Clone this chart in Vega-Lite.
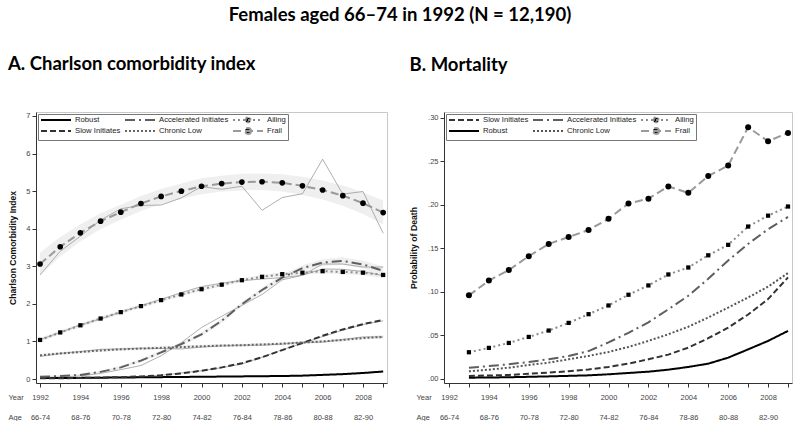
{
"$schema": "https://vega.github.io/schema/vega-lite/v6.json",
"padding": {"left": 7, "top": 6, "right": 4, "bottom": 0},
"background": "white",
"title": {"text": "Females aged 66–74 in 1992 (N = 12,190)", "font": "Lato", "fontSize": 18.5, "fontWeight": "bold", "color": "black", "anchor": "middle", "offset": 30},
"spacing": 21,
"config": {
  "view": {"stroke": "#c8c8c8"},
  "axis": {"labelFont": "Liberation Sans", "labelFontSize": 7.5, "labelColor": "#444", "titleFont": "Liberation Sans", "tickColor": "#333", "domainColor": "#333", "tickSize": 4, "grid": false, "labelPadding": 2},
  "legend": {"orient": "top-left", "direction": "horizontal", "offset": 2, "columns": 3, "strokeColor": "#777", "padding": 2, "labelFont": "Liberation Sans", "labelFontSize": 7.7, "labelColor": "#222", "labelBaseline": "middle", "symbolSize": 36, "symbolStrokeWidth": 2, "rowPadding": -3, "columnPadding": 0, "labelOffset": 27, "symbolType": "stroke"},
  "title": {"font": "Lato", "fontWeight": "bold", "color": "black"}
},
"datasets": {
  "A": [
    {"s":"Robust","year":1992,"fit":0.03,"obs":0.03},{"s":"Robust","year":1993,"fit":0.03,"obs":0.03},{"s":"Robust","year":1994,"fit":0.03,"obs":0.03},{"s":"Robust","year":1995,"fit":0.035,"obs":0.035},{"s":"Robust","year":1996,"fit":0.04,"obs":0.04},{"s":"Robust","year":1997,"fit":0.045,"obs":0.045},{"s":"Robust","year":1998,"fit":0.05,"obs":0.05},{"s":"Robust","year":1999,"fit":0.055,"obs":0.055},{"s":"Robust","year":2000,"fit":0.06,"obs":0.06},{"s":"Robust","year":2001,"fit":0.065,"obs":0.065},{"s":"Robust","year":2002,"fit":0.07,"obs":0.07},{"s":"Robust","year":2003,"fit":0.075,"obs":0.075},{"s":"Robust","year":2004,"fit":0.08,"obs":0.08},{"s":"Robust","year":2005,"fit":0.09,"obs":0.09},{"s":"Robust","year":2006,"fit":0.11,"obs":0.11},{"s":"Robust","year":2007,"fit":0.13,"obs":0.13},{"s":"Robust","year":2008,"fit":0.16,"obs":0.16},{"s":"Robust","year":2009,"fit":0.2,"obs":0.2},
    {"s":"Slow Initiates","year":1992,"fit":0.02,"obs":0.03},{"s":"Slow Initiates","year":1993,"fit":0.02,"obs":0.03},{"s":"Slow Initiates","year":1994,"fit":0.03,"obs":0.03},{"s":"Slow Initiates","year":1995,"fit":0.04,"obs":0.04},{"s":"Slow Initiates","year":1996,"fit":0.05,"obs":0.05},{"s":"Slow Initiates","year":1997,"fit":0.07,"obs":0.07},{"s":"Slow Initiates","year":1998,"fit":0.1,"obs":0.1},{"s":"Slow Initiates","year":1999,"fit":0.15,"obs":0.16},{"s":"Slow Initiates","year":2000,"fit":0.22,"obs":0.22},{"s":"Slow Initiates","year":2001,"fit":0.31,"obs":0.3},{"s":"Slow Initiates","year":2002,"fit":0.42,"obs":0.4},{"s":"Slow Initiates","year":2003,"fit":0.58,"obs":0.58},{"s":"Slow Initiates","year":2004,"fit":0.77,"obs":0.78},{"s":"Slow Initiates","year":2005,"fit":0.96,"obs":0.95},{"s":"Slow Initiates","year":2006,"fit":1.15,"obs":1.13},{"s":"Slow Initiates","year":2007,"fit":1.32,"obs":1.3},{"s":"Slow Initiates","year":2008,"fit":1.46,"obs":1.45},{"s":"Slow Initiates","year":2009,"fit":1.57,"obs":1.55},
    {"s":"Accelerated Initiates","year":1992,"fit":0.06,"obs":0.04,"lo":0.03,"hi":0.09},{"s":"Accelerated Initiates","year":1993,"fit":0.08,"obs":0.05,"lo":0.05,"hi":0.11},{"s":"Accelerated Initiates","year":1994,"fit":0.11,"obs":0.08,"lo":0.08,"hi":0.14},{"s":"Accelerated Initiates","year":1995,"fit":0.19,"obs":0.15,"lo":0.16,"hi":0.22},{"s":"Accelerated Initiates","year":1996,"fit":0.31,"obs":0.25,"lo":0.27,"hi":0.35},{"s":"Accelerated Initiates","year":1997,"fit":0.49,"obs":0.36,"lo":0.45,"hi":0.53},{"s":"Accelerated Initiates","year":1998,"fit":0.71,"obs":0.62,"lo":0.66,"hi":0.76},{"s":"Accelerated Initiates","year":1999,"fit":0.93,"obs":0.97,"lo":0.88,"hi":0.98},{"s":"Accelerated Initiates","year":2000,"fit":1.19,"obs":1.37,"lo":1.14,"hi":1.24},{"s":"Accelerated Initiates","year":2001,"fit":1.55,"obs":1.67,"lo":1.49,"hi":1.61},{"s":"Accelerated Initiates","year":2002,"fit":1.99,"obs":1.96,"lo":1.93,"hi":2.05},{"s":"Accelerated Initiates","year":2003,"fit":2.37,"obs":2.25,"lo":2.31,"hi":2.43},{"s":"Accelerated Initiates","year":2004,"fit":2.7,"obs":2.64,"lo":2.63,"hi":2.77},{"s":"Accelerated Initiates","year":2005,"fit":2.95,"obs":2.76,"lo":2.87,"hi":3.03},{"s":"Accelerated Initiates","year":2006,"fit":3.1,"obs":3.06,"lo":3.01,"hi":3.19},{"s":"Accelerated Initiates","year":2007,"fit":3.14,"obs":3.06,"lo":3.04,"hi":3.24},{"s":"Accelerated Initiates","year":2008,"fit":3.05,"obs":2.98,"lo":2.95,"hi":3.15},{"s":"Accelerated Initiates","year":2009,"fit":2.88,"obs":2.98,"lo":2.76,"hi":3.0},
    {"s":"Ailing","year":1992,"fit":1.04,"obs":1.05,"lo":0.99,"hi":1.09},{"s":"Ailing","year":1993,"fit":1.24,"obs":1.24,"lo":1.19,"hi":1.29},{"s":"Ailing","year":1994,"fit":1.43,"obs":1.44,"lo":1.38,"hi":1.48},{"s":"Ailing","year":1995,"fit":1.61,"obs":1.6,"lo":1.56,"hi":1.66},{"s":"Ailing","year":1996,"fit":1.78,"obs":1.78,"lo":1.73,"hi":1.83},{"s":"Ailing","year":1997,"fit":1.94,"obs":1.95,"lo":1.89,"hi":1.99},{"s":"Ailing","year":1998,"fit":2.1,"obs":2.12,"lo":2.05,"hi":2.15},{"s":"Ailing","year":1999,"fit":2.25,"obs":2.3,"lo":2.2,"hi":2.3},{"s":"Ailing","year":2000,"fit":2.39,"obs":2.46,"lo":2.34,"hi":2.44},{"s":"Ailing","year":2001,"fit":2.51,"obs":2.55,"lo":2.46,"hi":2.56},{"s":"Ailing","year":2002,"fit":2.63,"obs":2.62,"lo":2.58,"hi":2.68},{"s":"Ailing","year":2003,"fit":2.72,"obs":2.66,"lo":2.67,"hi":2.77},{"s":"Ailing","year":2004,"fit":2.79,"obs":2.7,"lo":2.74,"hi":2.84},{"s":"Ailing","year":2005,"fit":2.83,"obs":2.76,"lo":2.78,"hi":2.88},{"s":"Ailing","year":2006,"fit":2.87,"obs":2.93,"lo":2.81,"hi":2.93},{"s":"Ailing","year":2007,"fit":2.85,"obs":2.92,"lo":2.79,"hi":2.91},{"s":"Ailing","year":2008,"fit":2.83,"obs":2.86,"lo":2.76,"hi":2.9},{"s":"Ailing","year":2009,"fit":2.77,"obs":2.75,"lo":2.69,"hi":2.85},
    {"s":"Chronic Low","year":1992,"fit":0.63,"obs":0.6,"lo":0.59,"hi":0.67},{"s":"Chronic Low","year":1993,"fit":0.68,"obs":0.68,"lo":0.64,"hi":0.72},{"s":"Chronic Low","year":1994,"fit":0.72,"obs":0.73,"lo":0.68,"hi":0.76},{"s":"Chronic Low","year":1995,"fit":0.76,"obs":0.79,"lo":0.72,"hi":0.8},{"s":"Chronic Low","year":1996,"fit":0.79,"obs":0.8,"lo":0.75,"hi":0.83},{"s":"Chronic Low","year":1997,"fit":0.81,"obs":0.82,"lo":0.77,"hi":0.85},{"s":"Chronic Low","year":1998,"fit":0.83,"obs":0.81,"lo":0.79,"hi":0.87},{"s":"Chronic Low","year":1999,"fit":0.85,"obs":0.8,"lo":0.81,"hi":0.89},{"s":"Chronic Low","year":2000,"fit":0.87,"obs":0.85,"lo":0.83,"hi":0.91},{"s":"Chronic Low","year":2001,"fit":0.89,"obs":0.88,"lo":0.85,"hi":0.93},{"s":"Chronic Low","year":2002,"fit":0.9,"obs":0.9,"lo":0.86,"hi":0.94},{"s":"Chronic Low","year":2003,"fit":0.92,"obs":0.9,"lo":0.88,"hi":0.96},{"s":"Chronic Low","year":2004,"fit":0.94,"obs":0.93,"lo":0.9,"hi":0.98},{"s":"Chronic Low","year":2005,"fit":0.97,"obs":0.98,"lo":0.93,"hi":1.01},{"s":"Chronic Low","year":2006,"fit":1.0,"obs":0.98,"lo":0.96,"hi":1.04},{"s":"Chronic Low","year":2007,"fit":1.04,"obs":1.05,"lo":1.0,"hi":1.08},{"s":"Chronic Low","year":2008,"fit":1.09,"obs":1.12,"lo":1.05,"hi":1.13},{"s":"Chronic Low","year":2009,"fit":1.12,"obs":1.12,"lo":1.07,"hi":1.17},
    {"s":"Frail","year":1992,"fit":3.06,"obs":2.77,"lo":2.76,"hi":3.36},{"s":"Frail","year":1993,"fit":3.52,"obs":3.4,"lo":3.26,"hi":3.78},{"s":"Frail","year":1994,"fit":3.89,"obs":3.8,"lo":3.66,"hi":4.12},{"s":"Frail","year":1995,"fit":4.2,"obs":4.23,"lo":3.99,"hi":4.41},{"s":"Frail","year":1996,"fit":4.44,"obs":4.53,"lo":4.24,"hi":4.64},{"s":"Frail","year":1997,"fit":4.67,"obs":4.62,"lo":4.47,"hi":4.87},{"s":"Frail","year":1998,"fit":4.86,"obs":4.63,"lo":4.66,"hi":5.06},{"s":"Frail","year":1999,"fit":5.0,"obs":4.82,"lo":4.8,"hi":5.2},{"s":"Frail","year":2000,"fit":5.13,"obs":5.12,"lo":4.92,"hi":5.34},{"s":"Frail","year":2001,"fit":5.2,"obs":5.05,"lo":4.99,"hi":5.41},{"s":"Frail","year":2002,"fit":5.24,"obs":5.13,"lo":5.02,"hi":5.46},{"s":"Frail","year":2003,"fit":5.25,"obs":4.49,"lo":5.03,"hi":5.47},{"s":"Frail","year":2004,"fit":5.22,"obs":4.83,"lo":4.99,"hi":5.45},{"s":"Frail","year":2005,"fit":5.14,"obs":4.93,"lo":4.9,"hi":5.38},{"s":"Frail","year":2006,"fit":5.03,"obs":5.85,"lo":4.78,"hi":5.28},{"s":"Frail","year":2007,"fit":4.88,"obs":4.92,"lo":4.61,"hi":5.15},{"s":"Frail","year":2008,"fit":4.68,"obs":4.99,"lo":4.39,"hi":4.97},{"s":"Frail","year":2009,"fit":4.43,"obs":3.88,"lo":4.11,"hi":4.75}
  ],
  "B": [
    {"s":"Frail","year":1993,"p":0.096},{"s":"Frail","year":1994,"p":0.113},{"s":"Frail","year":1995,"p":0.125},{"s":"Frail","year":1996,"p":0.141},{"s":"Frail","year":1997,"p":0.155},{"s":"Frail","year":1998,"p":0.163},{"s":"Frail","year":1999,"p":0.171},{"s":"Frail","year":2000,"p":0.184},{"s":"Frail","year":2001,"p":0.2015},{"s":"Frail","year":2002,"p":0.207},{"s":"Frail","year":2003,"p":0.221},{"s":"Frail","year":2004,"p":0.2137},{"s":"Frail","year":2005,"p":0.233},{"s":"Frail","year":2006,"p":0.245},{"s":"Frail","year":2007,"p":0.289},{"s":"Frail","year":2008,"p":0.273},{"s":"Frail","year":2009,"p":0.2825},
    {"s":"Ailing","year":1993,"p":0.0307},{"s":"Ailing","year":1994,"p":0.0357},{"s":"Ailing","year":1995,"p":0.0414},{"s":"Ailing","year":1996,"p":0.0483},{"s":"Ailing","year":1997,"p":0.0556},{"s":"Ailing","year":1998,"p":0.0644},{"s":"Ailing","year":1999,"p":0.0744},{"s":"Ailing","year":2000,"p":0.0844},{"s":"Ailing","year":2001,"p":0.0967},{"s":"Ailing","year":2002,"p":0.1074},{"s":"Ailing","year":2003,"p":0.12},{"s":"Ailing","year":2004,"p":0.128},{"s":"Ailing","year":2005,"p":0.142},{"s":"Ailing","year":2006,"p":0.154},{"s":"Ailing","year":2007,"p":0.175},{"s":"Ailing","year":2008,"p":0.1875},{"s":"Ailing","year":2009,"p":0.198},
    {"s":"Accelerated Initiates","year":1993,"p":0.013},{"s":"Accelerated Initiates","year":1994,"p":0.0148},{"s":"Accelerated Initiates","year":1995,"p":0.0169},{"s":"Accelerated Initiates","year":1996,"p":0.0196},{"s":"Accelerated Initiates","year":1997,"p":0.0226},{"s":"Accelerated Initiates","year":1998,"p":0.0265},{"s":"Accelerated Initiates","year":1999,"p":0.032},{"s":"Accelerated Initiates","year":2000,"p":0.042},{"s":"Accelerated Initiates","year":2001,"p":0.053},{"s":"Accelerated Initiates","year":2002,"p":0.065},{"s":"Accelerated Initiates","year":2003,"p":0.08},{"s":"Accelerated Initiates","year":2004,"p":0.0955},{"s":"Accelerated Initiates","year":2005,"p":0.115},{"s":"Accelerated Initiates","year":2006,"p":0.136},{"s":"Accelerated Initiates","year":2007,"p":0.155},{"s":"Accelerated Initiates","year":2008,"p":0.172},{"s":"Accelerated Initiates","year":2009,"p":0.186},
    {"s":"Chronic Low","year":1993,"p":0.0088},{"s":"Chronic Low","year":1994,"p":0.0107},{"s":"Chronic Low","year":1995,"p":0.013},{"s":"Chronic Low","year":1996,"p":0.016},{"s":"Chronic Low","year":1997,"p":0.0188},{"s":"Chronic Low","year":1998,"p":0.0226},{"s":"Chronic Low","year":1999,"p":0.0265},{"s":"Chronic Low","year":2000,"p":0.031},{"s":"Chronic Low","year":2001,"p":0.0368},{"s":"Chronic Low","year":2002,"p":0.0437},{"s":"Chronic Low","year":2003,"p":0.0514},{"s":"Chronic Low","year":2004,"p":0.06},{"s":"Chronic Low","year":2005,"p":0.0706},{"s":"Chronic Low","year":2006,"p":0.082},{"s":"Chronic Low","year":2007,"p":0.0936},{"s":"Chronic Low","year":2008,"p":0.106},{"s":"Chronic Low","year":2009,"p":0.1216},
    {"s":"Slow Initiates","year":1993,"p":0.0035},{"s":"Slow Initiates","year":1994,"p":0.004},{"s":"Slow Initiates","year":1995,"p":0.0046},{"s":"Slow Initiates","year":1996,"p":0.006},{"s":"Slow Initiates","year":1997,"p":0.0073},{"s":"Slow Initiates","year":1998,"p":0.009},{"s":"Slow Initiates","year":1999,"p":0.011},{"s":"Slow Initiates","year":2000,"p":0.0138},{"s":"Slow Initiates","year":2001,"p":0.0176},{"s":"Slow Initiates","year":2002,"p":0.0226},{"s":"Slow Initiates","year":2003,"p":0.028},{"s":"Slow Initiates","year":2004,"p":0.036},{"s":"Slow Initiates","year":2005,"p":0.0468},{"s":"Slow Initiates","year":2006,"p":0.059},{"s":"Slow Initiates","year":2007,"p":0.074},{"s":"Slow Initiates","year":2008,"p":0.0917},{"s":"Slow Initiates","year":2009,"p":0.1166},
    {"s":"Robust","year":1993,"p":0.0015},{"s":"Robust","year":1994,"p":0.0017},{"s":"Robust","year":1995,"p":0.002},{"s":"Robust","year":1996,"p":0.0025},{"s":"Robust","year":1997,"p":0.003},{"s":"Robust","year":1998,"p":0.0036},{"s":"Robust","year":1999,"p":0.0042},{"s":"Robust","year":2000,"p":0.0054},{"s":"Robust","year":2001,"p":0.0069},{"s":"Robust","year":2002,"p":0.0084},{"s":"Robust","year":2003,"p":0.0107},{"s":"Robust","year":2004,"p":0.0138},{"s":"Robust","year":2005,"p":0.0176},{"s":"Robust","year":2006,"p":0.0245},{"s":"Robust","year":2007,"p":0.034},{"s":"Robust","year":2008,"p":0.0437},{"s":"Robust","year":2009,"p":0.0552}
  ]
},
"resolve": {"scale": {"x": "independent", "y": "independent", "color": "independent", "strokeDash": "independent", "shape": "independent", "size": "independent"}, "legend": {"color": "independent", "strokeDash": "independent"}},
"hconcat": [
  {
    "width": 351, "height": 271,
    "data": {"name": "A"},
    "title": {"text": "A. Charlson comorbidity index", "anchor": "start", "frame": "bounds", "fontSize": 18.5, "offset": 38},
    "encoding": {
      "x": {"field": "year", "type": "quantitative", "scale": {"domain": [1991.8, 2009.19], "nice": false, "zero": false},
        "axis": {"values": [1992,1993,1994,1995,1996,1997,1998,1999,2000,2001,2002,2003,2004,2005,2006,2007,2008,2009], "labelExpr": "datum.value % 2 == 0 ? [format(datum.value, 'd'), (datum.value - 1926) + '-' + (datum.value - 1918)] : ''", "labelLineHeight": 20, "labelPadding": 6, "labelOverlap": false, "labelFlush": false, "title": ["Year", "Age"], "titleFontSize": 7.5, "titleFontWeight": "normal", "titleColor": "#444", "titleLineHeight": 20, "titleAlign": "left", "titleBaseline": "top", "titleAnchor": "start", "titleX": -28, "titleY": 10}}
    },
    "layer": [
      {"mark": {"type": "area", "color": "#efefef", "opacity": 1},
       "encoding": {"y": {"field": "lo", "type": "quantitative", "stack": null, "scale": {"domain": [-0.106, 7.106], "nice": false, "zero": false},
           "axis": {"values": [0,1,2,3,4,5,6,7], "title": "Charlson Comorbidity Index", "titleFontSize": 8.5, "titleFontWeight": "bold", "titleColor": "#111", "titlePadding": 8}},
         "y2": {"field": "hi"}, "detail": {"field": "s"}}},
      {"mark": {"type": "line", "color": "#9a9a9a", "strokeWidth": 0.8},
       "encoding": {"y": {"field": "obs", "type": "quantitative", "scale": {"domain": [-0.106, 7.106], "nice": false, "zero": false},
           "axis": {"values": [0,1,2,3,4,5,6,7], "title": "Charlson Comorbidity Index", "titleFontSize": 8.5, "titleFontWeight": "bold", "titleColor": "#111", "titlePadding": 8}},
         "detail": {"field": "s"}}},
      {"mark": {"type": "line", "strokeWidth": 2},
       "encoding": {
         "y": {"field": "fit", "type": "quantitative", "scale": {"domain": [-0.106, 7.106], "nice": false, "zero": false},
           "axis": {"values": [0,1,2,3,4,5,6,7], "title": "Charlson Comorbidity Index", "titleFontSize": 8.5, "titleFontWeight": "bold", "titleColor": "#111", "titlePadding": 8}},
         "color": {"field": "s", "type": "nominal", "scale": {"domain": ["Robust","Accelerated Initiates","Ailing","Slow Initiates","Chronic Low","Frail"], "range": ["#000000","#5e5e5e","#8c8c8c","#333333","#666666","#9a9a9a"]},
           "legend": {"title": null, "encode": {"symbols": {"update": {"shape": {"signal": "(datum.value === 'Ailing' ? 'M-1,0H9M3.25,-0.75H4.75V0.75H3.25Z' : datum.value === 'Frail' ? 'M-1,0H9M5,0A1,1,0,1,1,3,0A1,1,0,1,1,5,0Z' : 'M-1,0H9') + 'M4,-1L4,-1M4,1L4,1'"}, "fill": {"signal": "datum.value === 'Ailing' || datum.value === 'Frail' ? 'black' : 'transparent'"}}}}}},
         "strokeDash": {"field": "s", "type": "nominal", "scale": {"domain": ["Robust","Accelerated Initiates","Ailing","Slow Initiates","Chronic Low","Frail"], "range": [[1,0],[10,4,2,4],[2,3],[6,3],[2,2],[8,4]]}, "legend": {"title": null}}
       }},
      {"transform": [{"filter": "datum.s == 'Ailing' || datum.s == 'Frail'"}],
       "mark": {"type": "point", "filled": true, "color": "black", "opacity": 1},
       "encoding": {"y": {"field": "fit", "type": "quantitative", "scale": {"domain": [-0.106, 7.106], "nice": false, "zero": false},
           "axis": {"values": [0,1,2,3,4,5,6,7], "title": "Charlson Comorbidity Index", "titleFontSize": 8.5, "titleFontWeight": "bold", "titleColor": "#111", "titlePadding": 8}},
         "shape": {"field": "s", "type": "nominal", "scale": {"domain": ["Ailing","Frail"], "range": ["square","circle"]}, "legend": null},
         "size": {"field": "s", "type": "nominal", "scale": {"domain": ["Ailing","Frail"], "range": [18,32]}, "legend": null}}}
    ]
  },
  {
    "width": 348, "height": 271,
    "data": {"name": "B"},
    "title": {"text": "B. Mortality", "anchor": "start", "frame": "bounds", "fontSize": 18.5, "offset": 38},
    "encoding": {
      "x": {"field": "year", "type": "quantitative", "scale": {"domain": [1991.75, 2009.2], "nice": false, "zero": false},
        "axis": {"values": [1992,1993,1994,1995,1996,1997,1998,1999,2000,2001,2002,2003,2004,2005,2006,2007,2008,2009], "labelExpr": "datum.value % 2 == 0 ? [format(datum.value, 'd'), (datum.value - 1926) + '-' + (datum.value - 1918)] : ''", "labelLineHeight": 20, "labelPadding": 6, "labelOverlap": false, "labelFlush": false, "title": ["Year", "Age"], "titleFontSize": 7.5, "titleFontWeight": "normal", "titleColor": "#444", "titleLineHeight": 20, "titleAlign": "left", "titleBaseline": "top", "titleAnchor": "start", "titleX": -28, "titleY": 10}},
      "y": {"field": "p", "type": "quantitative", "scale": {"domain": [-0.0046, 0.3065], "nice": false, "zero": false},
        "axis": {"values": [0,0.05,0.1,0.15,0.2,0.25,0.3], "labelExpr": "replace(format(datum.value, '.2f'), '0.', '.')", "title": "Probability of Death", "titleFontSize": 8.7, "titleFontWeight": "bold", "titleColor": "#111", "titlePadding": 9}}
    },
    "layer": [
      {"mark": {"type": "line", "strokeWidth": 2},
       "encoding": {
         "color": {"field": "s", "type": "nominal", "scale": {"domain": ["Slow Initiates","Accelerated Initiates","Ailing","Robust","Chronic Low","Frail"], "range": ["#333333","#5e5e5e","#8c8c8c","#000000","#555555","#9a9a9a"]},
           "legend": {"title": null, "encode": {"symbols": {"update": {"shape": {"signal": "(datum.value === 'Ailing' ? 'M-1,0H9M3.25,-0.75H4.75V0.75H3.25Z' : datum.value === 'Frail' ? 'M-1,0H9M5,0A1,1,0,1,1,3,0A1,1,0,1,1,5,0Z' : 'M-1,0H9') + 'M4,-1L4,-1M4,1L4,1'"}, "fill": {"signal": "datum.value === 'Ailing' || datum.value === 'Frail' ? 'black' : 'transparent'"}}}}}},
         "strokeDash": {"field": "s", "type": "nominal", "scale": {"domain": ["Slow Initiates","Accelerated Initiates","Ailing","Robust","Chronic Low","Frail"], "range": [[6,3],[10,4,2,4],[2,3],[1,0],[2,2],[8,4]]}, "legend": {"title": null}}
       }},
      {"transform": [{"filter": "datum.s == 'Ailing' || datum.s == 'Frail'"}],
       "mark": {"type": "point", "filled": true, "color": "black", "opacity": 1},
       "encoding": {
         "shape": {"field": "s", "type": "nominal", "scale": {"domain": ["Ailing","Frail"], "range": ["square","circle"]}, "legend": null},
         "size": {"field": "s", "type": "nominal", "scale": {"domain": ["Ailing","Frail"], "range": [18,36]}, "legend": null}}}
    ]
  }
]
}
